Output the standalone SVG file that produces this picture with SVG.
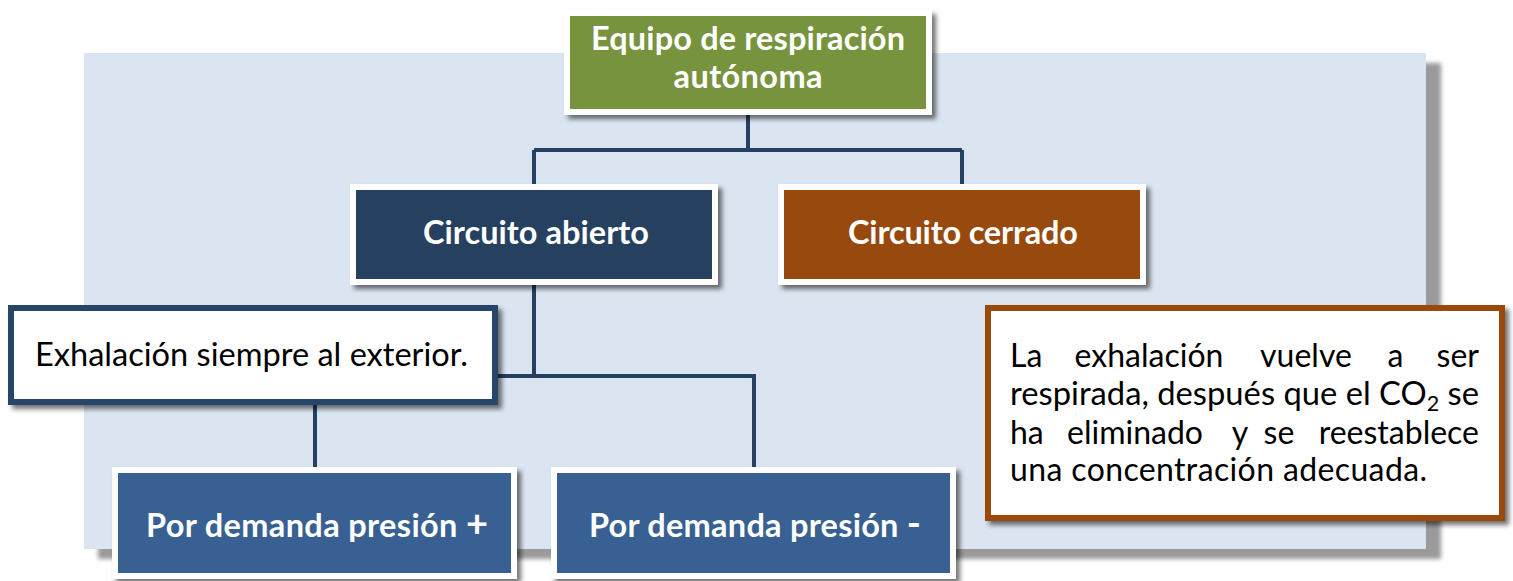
<svg xmlns="http://www.w3.org/2000/svg" width="1513" height="581" viewBox="0 0 1513 581">
<defs>
<filter id="sh" x="-10%" y="-10%" width="130%" height="140%">
<feDropShadow dx="4" dy="4" stdDeviation="2.5" flood-color="#000" flood-opacity="0.55"/>
</filter>
<filter id="bgsh" x="-5%" y="-5%" width="110%" height="110%">
<feGaussianBlur stdDeviation="2"/>
</filter>
<style>
.conn{fill:none;stroke:#254061;stroke-width:4}
.frame{stroke:#fff;stroke-width:6}
.title{font-family:Lato,"Open Sans","Liberation Sans",sans-serif;font-weight:bold;font-size:32.5px;fill:#fff;text-anchor:middle}
.body{font-family:Lato,"Open Sans","Liberation Sans",sans-serif;fill:#000}
.m{text-anchor:middle}
.e{text-anchor:end}
</style>
</defs>
<rect width="1513" height="581" fill="#fff"/>
<g id="background">
<rect x="98" y="63" width="1343" height="496" fill="#9a9a9a" filter="url(#bgsh)"/>
<rect x="84" y="53" width="1342" height="496" fill="#DBE5F1"/>
</g>
<g id="connectors">
<path class="conn" d="M748,115 V150 M534,150 H962 M534,150 V184 M962,150 V184 M534,285 V376 H754 V467 M498,376 H534 M315,405 V467"/>
</g>
<g id="n-equipo">
<rect class="frame" x="567" y="13" width="362" height="99" fill="#77933C" filter="url(#sh)"/>
<text class="title" x="748" y="50" textLength="314">Equipo de respiración</text>
<text class="title" x="748" y="88" textLength="149">autónoma</text>
</g>
<g id="n-abierto">
<rect class="frame" x="353" y="187" width="362" height="95" fill="#254061" filter="url(#sh)"/>
<text class="title" x="536" y="244" textLength="226">Circuito abierto</text>
</g>
<g id="n-cerrado">
<rect class="frame" x="781" y="187" width="362" height="95" fill="#984807" filter="url(#sh)"/>
<text class="title" x="963" y="244" textLength="230">Circuito cerrado</text>
</g>
<g id="n-exhalacion">
<rect x="11" y="308" width="484" height="94" fill="#fff" stroke="#284468" stroke-width="6" filter="url(#sh)"/>
<text class="body" x="35" y="366" font-size="32" textLength="433" lengthAdjust="spacingAndGlyphs">Exhalación siempre al exterior.</text>
</g>
<g id="n-cerrado-desc">
<rect x="988" y="308" width="514" height="210" fill="#fff" stroke="#9A4A0A" stroke-width="6" filter="url(#sh)"/>
<g class="body" font-size="32">
<text y="367"><tspan x="1010">La</tspan><tspan class="m" x="1149">exhalación</tspan><tspan class="m" x="1306">vuelve</tspan><tspan class="m" x="1395.5">a</tspan><tspan class="e" x="1479">ser</tspan></text>
<text x="1010" y="405" textLength="469" lengthAdjust="spacingAndGlyphs">respirada, después que el CO<tspan font-size="21" dy="6">2</tspan><tspan dy="-6"> se</tspan></text>
<text y="444"><tspan x="1010">ha</tspan><tspan class="m" x="1135">eliminado</tspan><tspan class="m" x="1240">y</tspan><tspan class="m" x="1279">se</tspan><tspan class="e" x="1479">reestablece</tspan></text>
<text x="1010" y="481" textLength="417">una concentración adecuada.</text>
</g>
</g>
<g id="n-positiva">
<rect class="frame" x="115" y="470" width="399" height="106" fill="#376092" filter="url(#sh)"/>
<text class="title" x="317" y="537" textLength="342">Por demanda presión <tspan font-size="38">+</tspan></text>
</g>
<g id="n-negativa">
<rect class="frame" x="554" y="470" width="399" height="106" fill="#376092" filter="url(#sh)"/>
<text class="title" x="755" y="537" textLength="332">Por demanda presión <tspan font-size="38">-</tspan></text>
</g>
</svg>
